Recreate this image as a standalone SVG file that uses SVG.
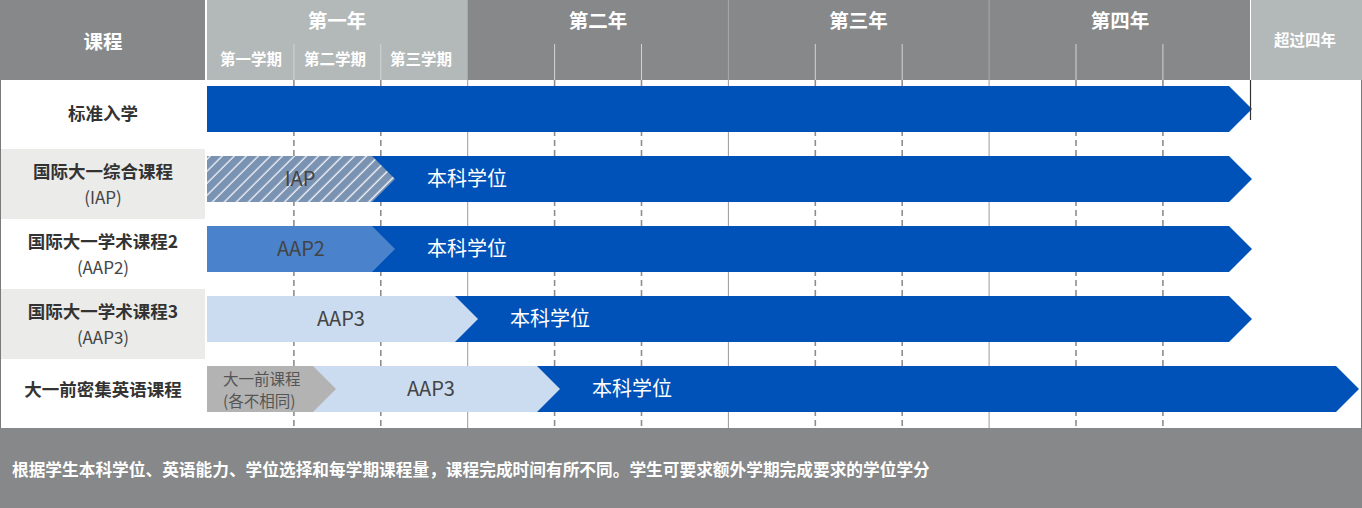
<svg xmlns="http://www.w3.org/2000/svg" width="1362" height="508" viewBox="0 0 1362 508">
<style>
text{font-family:"Noto Sans CJK SC","Noto Sans",sans-serif}
.hd{fill:#fff;font-weight:bold;text-anchor:middle}
.lb{fill:#333;font-weight:bold;font-size:17.5px;text-anchor:middle}
.lp{fill:#444;font-size:17px;text-anchor:middle}
.bt{font-size:20px;text-anchor:middle}
.dk{fill:#444}
.wh{fill:#fff}
.dash{stroke:#8e8e8e;stroke-width:1.6;stroke-dasharray:6 4}
.yr{stroke:#9a9a9a;stroke-width:1}
.blue{fill:#0052b9}
</style>
<defs>
<pattern id="hatch" patternUnits="userSpaceOnUse" width="8.5" height="8.5" patternTransform="rotate(45)">
<rect width="8.5" height="8.5" fill="#7b93b3"/>
<line x1="4" y1="0" x2="4" y2="8.5" stroke="#ffffff" stroke-width="1.2"/>
</pattern>
</defs>
<rect width="1362" height="508" fill="#fff"/>
<g id="header">
<rect x="0" y="0" width="205" height="80" fill="#868889"/>
<rect x="207" y="0" width="261" height="80" fill="#b3b8b8"/>
<rect x="467.7" y="0" width="782.3" height="80" fill="#868889"/>
<rect x="1251" y="0" width="111" height="80" fill="#b3b8b8"/>
<g stroke="#a9abab" stroke-width="1">
<line x1="728.4" y1="0" x2="728.4" y2="80"/>
<line x1="989.1" y1="0" x2="989.1" y2="80"/>
</g>
<g stroke="#d2d4d4" stroke-width="1">
<line x1="293.9" y1="44" x2="293.9" y2="80"/>
<line x1="380.8" y1="44" x2="380.8" y2="80"/>
<line x1="554.6" y1="44" x2="554.6" y2="80"/>
<line x1="641.5" y1="44" x2="641.5" y2="80"/>
<line x1="815.3" y1="44" x2="815.3" y2="80"/>
<line x1="902.2" y1="44" x2="902.2" y2="80"/>
<line x1="1076" y1="44" x2="1076" y2="80"/>
<line x1="1162.9" y1="44" x2="1162.9" y2="80"/>
</g>
<text class="hd" x="103" y="49" font-size="19.5">课程</text>
<text class="hd" x="337" y="28" font-size="19.5">第一年</text>
<text class="hd" x="598" y="28" font-size="19.5">第二年</text>
<text class="hd" x="858.5" y="28" font-size="19.5">第三年</text>
<text class="hd" x="1120" y="28" font-size="19.5">第四年</text>
<text class="hd" x="251" y="65" font-size="15.5">第一学期</text>
<text class="hd" x="335" y="65" font-size="15.5">第二学期</text>
<text class="hd" x="421" y="65" font-size="15.5">第三学期</text>
<text class="hd" x="1305" y="46" font-size="15.5">超过四年</text>
</g>
<g id="row-backgrounds">
<rect x="0" y="149" width="205" height="70" fill="#ebebea"/>
<rect x="0" y="289" width="205" height="70" fill="#ebebea"/>
</g>
<g id="grid">
<line class="dash" x1="293.9" y1="80" x2="293.9" y2="428"/>
<line class="dash" x1="380.8" y1="80" x2="380.8" y2="428"/>
<line class="dash" x1="554.6" y1="80" x2="554.6" y2="428"/>
<line class="dash" x1="641.5" y1="80" x2="641.5" y2="428"/>
<line class="dash" x1="815.3" y1="80" x2="815.3" y2="428"/>
<line class="dash" x1="902.2" y1="80" x2="902.2" y2="428"/>
<line class="dash" x1="1076" y1="80" x2="1076" y2="428"/>
<line class="dash" x1="1162.9" y1="80" x2="1162.9" y2="428"/>
<line class="yr" x1="467.7" y1="80" x2="467.7" y2="428"/>
<line class="yr" x1="728.4" y1="80" x2="728.4" y2="428"/>
<line class="yr" x1="989.1" y1="80" x2="989.1" y2="428"/>
</g>
<g id="row1">
<text class="lb" x="103" y="120">标准入学</text>
<polygon class="blue" points="207,86 1229,86 1252,109 1229,132 207,132"/>
</g>
<g id="row2">
<text class="lb" x="103" y="178">国际大一综合课程</text>
<text class="lp" x="103" y="204">(IAP)</text>
<polygon class="blue" points="372,156 1229,156 1252,179 1229,202 372,202"/>
<polygon fill="url(#hatch)" points="207,156 372,156 395,179 372,202 207,202"/>
<text class="bt dk" x="300" y="186">IAP</text>
<text class="bt wh" x="467" y="186">本科学位</text>
</g>
<g id="row3">
<text class="lb" x="103" y="248">国际大一学术课程2</text>
<text class="lp" x="103" y="274">(AAP2)</text>
<polygon class="blue" points="372,226 1229,226 1252,249 1229,272 372,272"/>
<polygon fill="#4a83cc" points="207,226 372,226 395,249 372,272 207,272"/>
<text class="bt dk" x="301" y="256">AAP2</text>
<text class="bt wh" x="467" y="256">本科学位</text>
</g>
<g id="row4">
<text class="lb" x="103" y="318">国际大一学术课程3</text>
<text class="lp" x="103" y="344">(AAP3)</text>
<polygon class="blue" points="455,296 1229,296 1252,319 1229,342 455,342"/>
<polygon fill="#cbdcf0" points="207,296 455,296 478,319 455,342 207,342"/>
<text class="bt dk" x="341" y="326">AAP3</text>
<text class="bt wh" x="550" y="326">本科学位</text>
</g>
<g id="row5">
<text class="lb" x="103" y="396">大一前密集英语课程</text>
<polygon class="blue" points="537,366 1336,366 1359,389 1336,412 537,412"/>
<polygon fill="#cbdcf0" points="313,366 537,366 560,389 537,412 313,412"/>
<polygon fill="#b3b3b3" points="207,366 313,366 336,389 313,412 207,412"/>
<text x="223" y="384.5" font-size="15.5" fill="#555">大一前课程</text>
<text x="223" y="407" font-size="15.5" fill="#555">(各不相同)</text>
<text class="bt dk" x="431" y="396">AAP3</text>
<text class="bt wh" x="632" y="396">本科学位</text>
</g>
<g id="marker-4yr">
<line x1="1250.5" y1="80" x2="1250.5" y2="120" stroke="#333" stroke-width="1.2"/>
</g>
<g id="footer">
<rect x="0" y="428" width="1362" height="80" fill="#868889"/>
<text x="12" y="476" font-size="16.7" font-weight="bold" fill="#fff">根据学生本科学位、英语能力、学位选择和每学期课程量，课程完成时间有所不同。学生可要求额外学期完成要求的学位学分</text>
</g>
<g id="border" stroke="#7a7a7a" stroke-width="1">
<line x1="0.5" y1="80" x2="0.5" y2="428"/>
<line x1="1361.5" y1="80" x2="1361.5" y2="428"/>
</g>
</svg>
